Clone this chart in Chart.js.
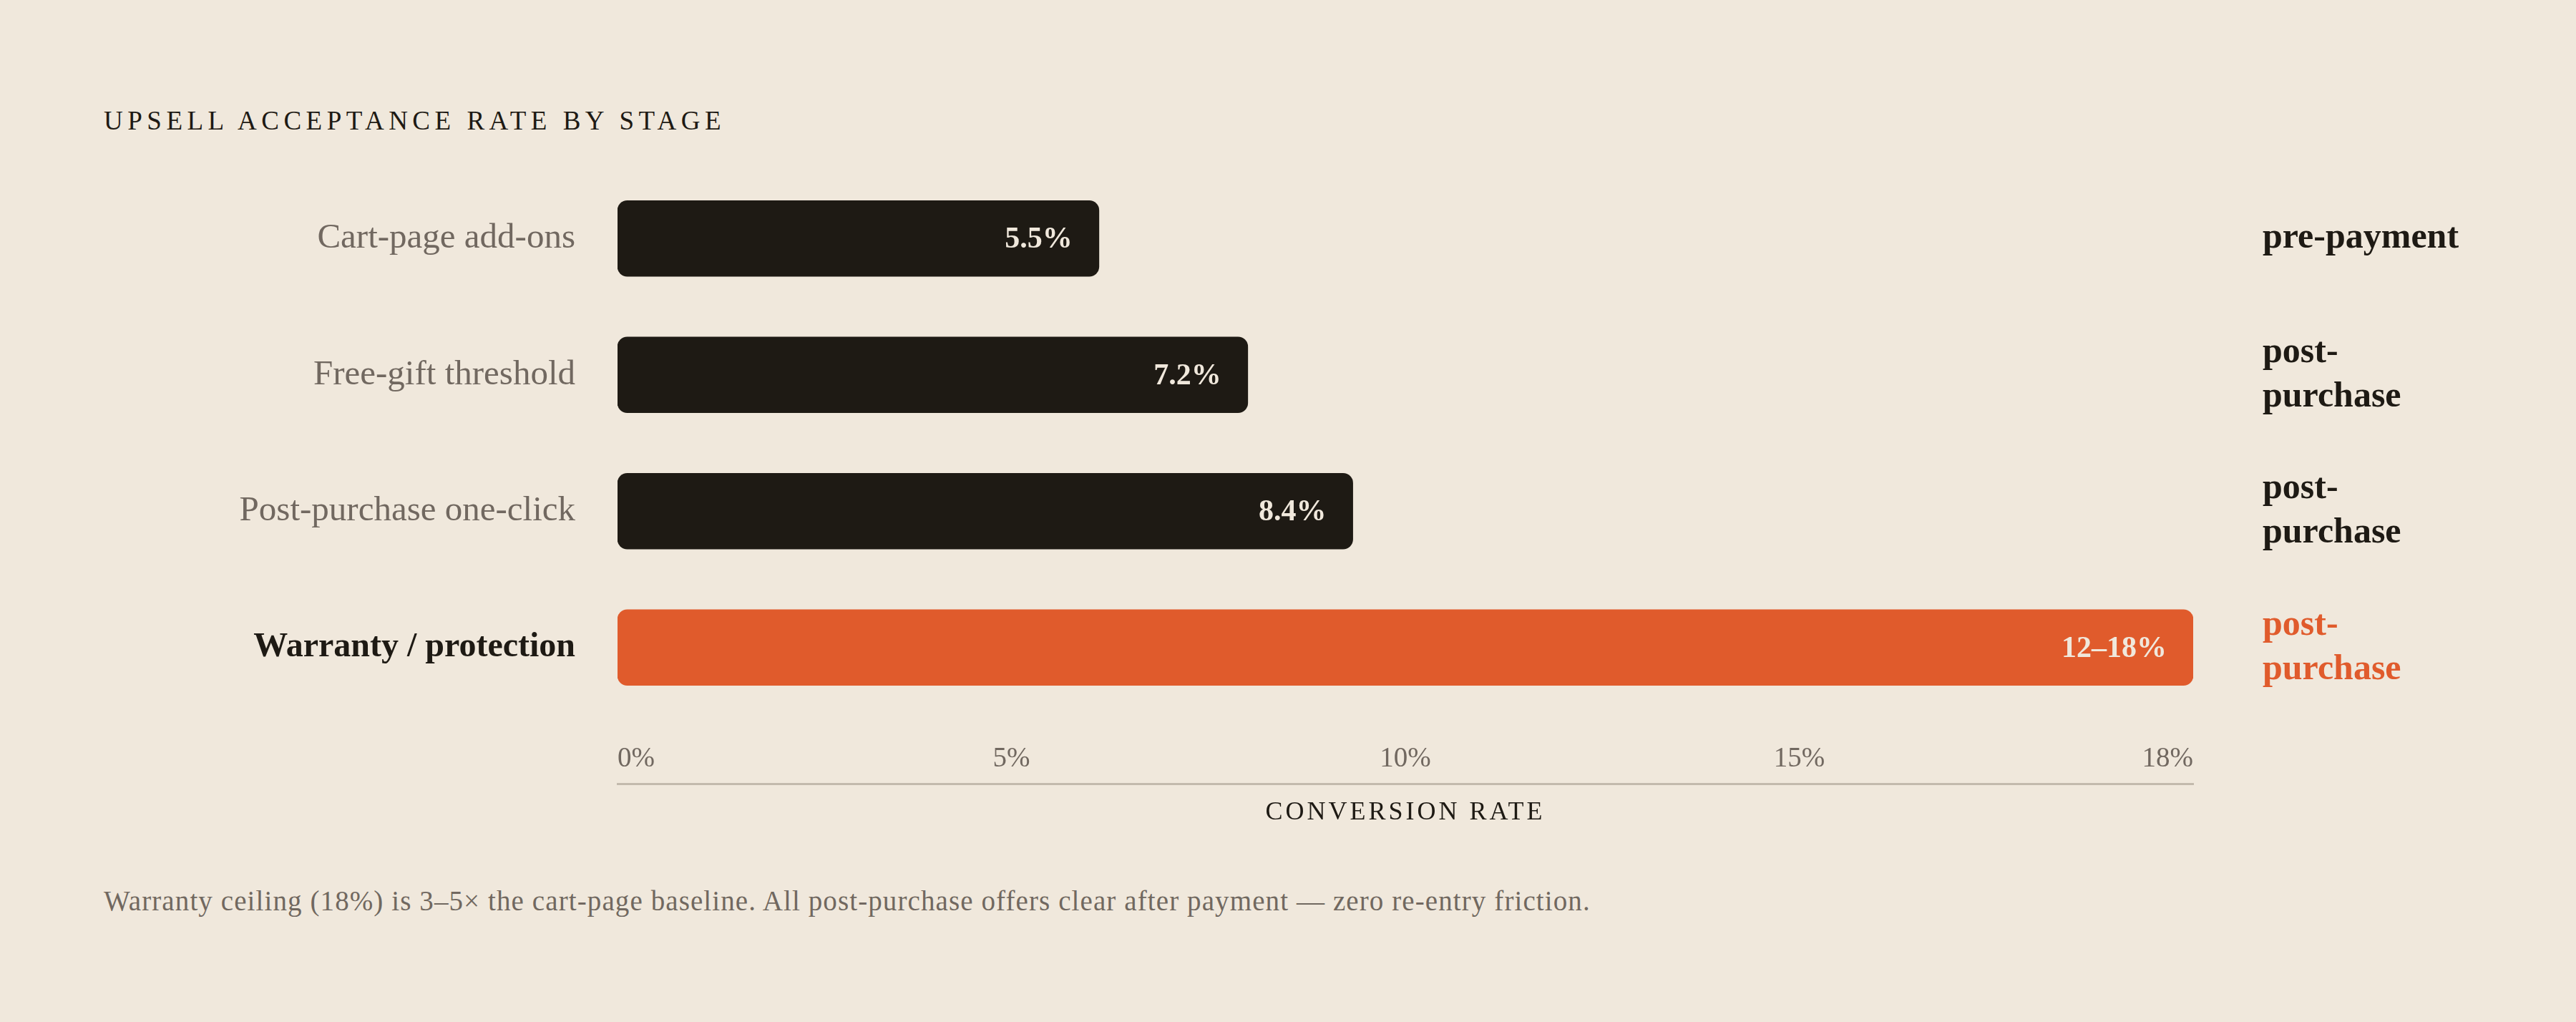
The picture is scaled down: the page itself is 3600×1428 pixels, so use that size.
<!DOCTYPE html>
<html>
<head>
<meta charset="utf-8">
<script src="https://cdn.jsdelivr.net/npm/chart.js@4.4.1/dist/chart.umd.min.js"></script>
<style>
  html, body { margin: 0; padding: 0; }
  body {
    width: 3600px; height: 1428px; background: #f0e8dc;
    position: relative; overflow: hidden;
    font-family: "Liberation Serif", serif;
  }
  .title {
    position: absolute; left: 145px; top: 150px;
    font-size: 37px; line-height: 37px; letter-spacing: 6.5px;
    color: #1e1a14; white-space: nowrap;
  }
  .chart-box {
    position: absolute; left: 145px; top: 200px;
    width: 3455px; height: 957px;
  }
  .note {
    position: absolute; left: 145px; top: 1239px;
    font-size: 39px; line-height: 39px; letter-spacing: 1.1px;
    color: #716860; white-space: nowrap;
  }
</style>
</head>
<body>
<div class="title">UPSELL ACCEPTANCE RATE BY STAGE</div>
<div class="chart-box"><canvas id="grafica"></canvas></div>
<div class="note">Warranty ceiling (18%) is 3–5× the cart-page baseline. All post-purchase offers clear after payment — zero re-entry friction.</div>

<script>
// datos
const categorias = ['Cart-page add-ons', 'Free-gift threshold', 'Post-purchase one-click', 'Warranty / protection'];
const valores = [5.5, 7.2, 8.4, 18];
const etiquetasValor = ['5.5%', '7.2%', '8.4%', '12–18%'];
const etapas = ['pre-payment', ['post-', 'purchase'], ['post-', 'purchase'], ['post-', 'purchase']];
const ticksEje = ['0%', '5%', '10%', '15%', '18%'];
const destacado = 3;

const OSCURO = '#1e1a14';
const NARANJA = '#e05b2c';
const GRIS = '#716860';
const CREMA = '#f0e8dc';
const FUENTE = '"Liberation Serif", serif';

// texto dentro de cada barra, al final
const etiquetasBarras = {
  id: 'etiquetasBarras',
  afterDatasetsDraw(chart) {
    const ctx = chart.ctx;
    const meta = chart.getDatasetMeta(0);
    ctx.save();
    ctx.fillStyle = CREMA;
    ctx.font = 'bold 42px ' + FUENTE;
    ctx.textAlign = 'right';
    ctx.textBaseline = 'middle';
    meta.data.forEach((barra, i) => {
      ctx.fillText(etiquetasValor[i], barra.x - 37, barra.y + 2);
    });
    ctx.restore();
    // espaciado de letras para el título del eje (se dibuja después, z = 1)
    ctx.letterSpacing = '4px';
  },
  afterDraw(chart) {
    chart.ctx.letterSpacing = '0px';
  }
};

// sin relleno extra arriba/abajo por las etiquetas de los ejes verticales
const sinRelleno = (s) => { s.paddingTop = 0; s.paddingBottom = 0; };

const ctxGrafica = document.getElementById('grafica').getContext('2d');
new Chart(ctxGrafica, {
  type: 'bar',
  data: {
    labels: categorias,
    datasets: [{
      data: valores,
      backgroundColor: valores.map((v, i) => i === destacado ? NARANJA : OSCURO),
      borderWidth: 0,
      borderRadius: 14,
      borderSkipped: false,
      barThickness: 106,
      xAxisID: 'x',
      yAxisID: 'y'
    }]
  },
  options: {
    indexAxis: 'y',
    responsive: true,
    maintainAspectRatio: false,
    animation: false,
    layout: { padding: { top: 38, right: 0, bottom: 0, left: 0 } },
    plugins: { legend: { display: false }, tooltip: { enabled: false } },
    scales: {
      x: { type: 'linear', min: 0, max: 18, display: false },
      x2: {
        type: 'linear', position: 'bottom', min: 0, max: ticksEje.length - 1, weight: 0,
        grid: { display: false, drawTicks: false },
        border: { display: false },
        ticks: {
          stepSize: 1, align: 'inner', padding: 37, maxRotation: 0, autoSkip: false,
          color: GRIS, font: { family: FUENTE, size: 39 },
          callback: (v, i) => ticksEje[i]
        },
        afterFit: (s) => { s.height = 95; s.paddingLeft = 0; s.paddingRight = 0; }
      },
      x3: {
        type: 'linear', position: 'bottom', min: 0, max: 1, weight: 1,
        grid: { display: false, drawTicks: false, z: 1 },
        border: { display: true, color: '#c3baad', width: 3, z: 1 },
        ticks: { display: false },
        title: {
          display: true, text: 'CONVERSION RATE', color: OSCURO,
          font: { family: FUENTE, size: 36 }, padding: { top: 22, bottom: 0 }
        },
        afterFit: (s) => { s.height = 62; }
      },
      y: {
        position: 'left',
        grid: { display: false, drawTicks: false },
        border: { display: false },
        ticks: {
          padding: 59,
          color: (c) => c.index === destacado ? OSCURO : GRIS,
          font: (c) => ({ family: FUENTE, size: c.index === destacado ? 48 : 49, weight: c.index === destacado ? 'bold' : 'normal' })
        },
        afterFit: (s) => { s.width = 718; sinRelleno(s); }
      },
      y2: {
        type: 'category', position: 'right', labels: etapas, offset: true,
        grid: { display: false, drawTicks: false, offset: true },
        border: { display: false },
        ticks: {
          padding: 97,
          color: (c) => c.index === destacado ? NARANJA : OSCURO,
          font: { family: FUENTE, size: 50, weight: 'bold', lineHeight: 1.24 }
        },
        afterFit: (s) => { s.width = 535; sinRelleno(s); }
      }
    }
  },
  plugins: [etiquetasBarras]
});
</script>
</body>
</html>
